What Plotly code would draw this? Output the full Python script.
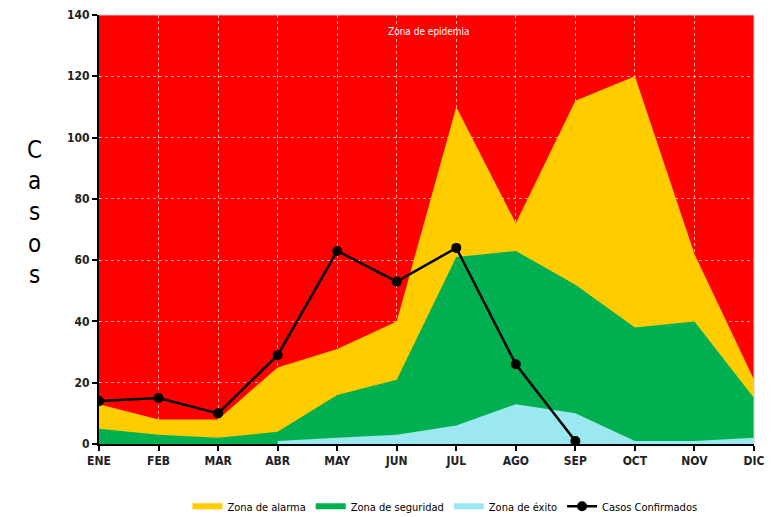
import plotly.graph_objs as go

months = ["ENE", "FEB", "MAR", "ABR", "MAY", "JUN", "JUL", "AGO", "SEP", "OCT", "NOV", "DIC"]
alarma = [13, 8, 8, 25, 31, 40, 110, 72, 112, 120, 62, 21]
seguridad = [5, 3, 2, 4, 16, 21, 61, 63, 52, 38, 40, 15]
exito = [None, None, None, 1, 2, 3, 6, 13, 10, 1, 1, 2]
confirmados = [14, 15, 10, 29, 63, 53, 64, 26, 1, None, None, None]

FONT = "DejaVu Sans Condensed, Liberation Sans Narrow, sans-serif"

fig = go.Figure()

# the zones are drawn over each other, not stacked
zones = [("Zona de alarma", alarma, "#FFCC00"),
         ("Zona de seguridad", seguridad, "#00B050"),
         ("Zona de éxito", exito, "#9CE8F0")]
for name, vals, color in zones:
    fig.add_trace(go.Scatter(x=months, y=vals, name=name, mode="none",
                             fill="tozeroy", fillcolor=color))

fig.add_trace(go.Scatter(x=months, y=confirmados, name="Casos Confirmados",
                         mode="lines+markers",
                         line=dict(color="black", width=2.5),
                         marker=dict(color="black", size=10, symbol="circle")))

tick_font = dict(size=12, color="#222222", family=FONT, weight="bold")

fig.update_layout(
    width=773, height=517,
    margin=dict(l=91, r=27, t=7, b=81, autoexpand=False),
    paper_bgcolor="white",
    plot_bgcolor="#FF0000",
    font=dict(family=FONT, size=13, color="#222222"),
    showlegend=True,
    legend=dict(orientation="h", x=0.135, xanchor="left", y=-0.145, yanchor="middle",
                font=dict(size=11, color="black"), traceorder="normal",
                itemwidth=30, tracegroupgap=0),
    xaxis=dict(range=[0, 11], showgrid=True, gridcolor="rgba(255,255,255,0.7)", griddash="dot",
               gridwidth=1, showline=True, linecolor="black", linewidth=2,
               ticks="outside", ticklen=5, tickcolor="black", tickwidth=2,
               tickfont=tick_font, zeroline=False),
    yaxis=dict(range=[0, 140], dtick=20, showgrid=True, gridcolor="rgba(255,255,255,0.7)",
               griddash="dot", gridwidth=1, showline=True, linecolor="black", linewidth=2,
               ticks="outside", ticklen=5, tickcolor="black", tickwidth=2,
               tickfont=tick_font, zeroline=False, ticklabeloverflow="allow"),
    annotations=[
        dict(text="C<br>a<br>s<br>o<br>s", xref="paper", yref="paper", x=-0.113, y=0.54,
             showarrow=False, font=dict(size=24, color="black", family=FONT),
             align="center"),
        dict(text="Zona de epidemia", xref="x", yref="y", x=5.55, y=134.5,
             showarrow=False, font=dict(size=10, color="white", family=FONT)),
    ],
    shapes=[
        dict(type="line", xref="paper", yref="paper", x0=0, x1=1, y0=1, y1=1,
             line=dict(color="#C8C8C8", width=1)),
        dict(type="line", xref="paper", yref="paper", x0=1, x1=1, y0=0, y1=1,
             line=dict(color="#C8C8C8", width=1)),
    ],
)

fig.write_html("out.html")
